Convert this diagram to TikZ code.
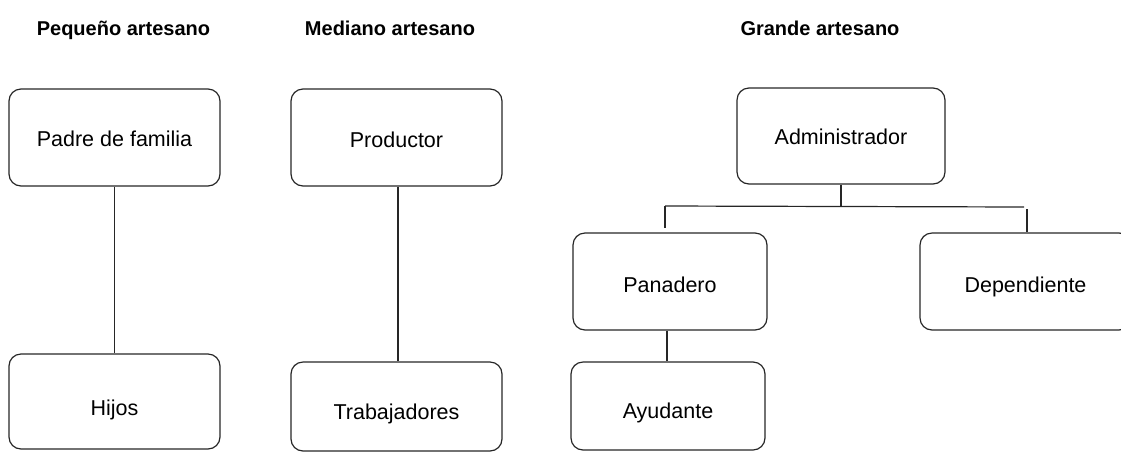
\documentclass[tikz,border=0pt]{standalone}
\usepackage{fontspec}
\setmainfont{Liberation Sans}
\newcommand{\lowr}[2]{\raisebox{-#1pt}{#2}}
\begin{document}
\begin{tikzpicture}[x=1pt,y=-1pt,
  box/.style={draw=black!85, line width=1.2pt, rounded corners=12pt, minimum width=211pt, minimum height=97pt, inner sep=0pt, text height=15.5pt, text depth=4.5pt, font=\fontsize{21.5}{24}\selectfont},
  head/.style={font=\bfseries\fontsize{20}{24}\selectfont, inner sep=0pt, anchor=base},
  conn/.style={draw=black!85, line width=1.2pt}]
\useasboundingbox (0,0) rectangle (1121,451);
% headings
\node[head] (h1) at (123.5,35.5) {Pequeño artesano};
\node[head] (h2) at (390,35.5) {Mediano artesano};
\node[head] (h3) at (820,35.5) {Grande artesano};
% small artisan
\node[box] (padre) at (114.5,137.5) {\lowr{3}{Padre de familia}};
\node[box, minimum height=95pt] (hijos) at (114.5,401.5) {\lowr{8.5}{Hijos}};
\draw[conn, line width=1pt] (padre.south) -- (hijos.north);
% medium artisan
\node[box] (prod) at (396.5,137.5) {\lowr{4}{Productor}};
\node[box, minimum height=89pt] (trab) at (396.5,406.5) {\lowr{7.5}{Trabajadores}};
\draw[conn] ([xshift=1.5pt]prod.south) -- ([xshift=1.5pt]trab.north);
% big artisan
\node[box, minimum width=208pt, minimum height=96pt] (admin) at (841,136) {\lowr{3}{Administrador}};
\node[box, minimum width=194pt] (pan) at (670,281.5) {\lowr{5.5}{Panadero}};
\node[box, minimum width=211pt] (dep) at (1025.5,281.5) {\lowr{5.5}{Dependiente}};
\node[box, minimum width=194pt, minimum height=88pt] (ayu) at (668,406) {\lowr{6.5}{Ayudante}};
\coordinate (bl) at (665,206);
\coordinate (bm) at (841,206.5);
\coordinate (br) at (1024,207);
\coordinate (tl) at (665,228);
\coordinate (rt) at (1027,209);
\draw[conn] (admin.south) -- (bm);
\draw[conn] (bl) -- (br);
\draw[conn] (bl) -- (tl);
\draw[conn] (rt) -- (rt |- dep.north);
\draw[conn] ([xshift=-3pt]pan.south) -- ([xshift=-1pt]ayu.north);
\end{tikzpicture}
\end{document}
